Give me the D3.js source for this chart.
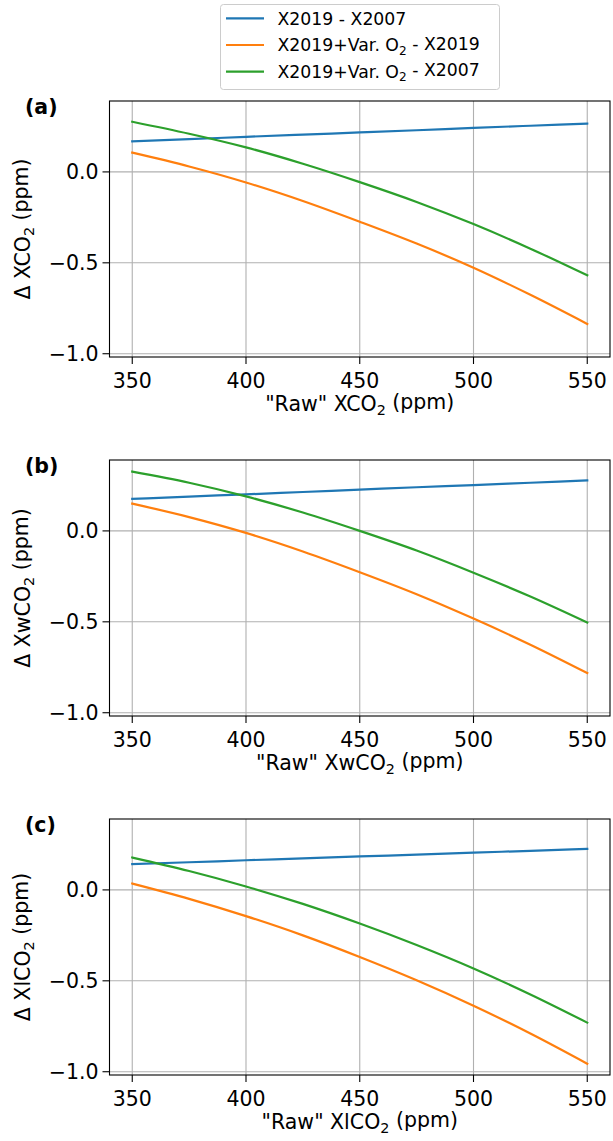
<!DOCTYPE html>
<html>
<head>
<meta charset="utf-8">
<script src="https://cdn.jsdelivr.net/npm/d3@7"></script>
<style>
html, body { margin: 0; padding: 0; background: #fff; }
svg { display: block; font-family: "DejaVu Sans", sans-serif; }
</style>
</head>
<body>
<div id="chart"></div>
<script>
// ---------- data ----------
const rawX = [350, 375, 400, 425, 450, 475, 500, 525, 550];
const xTicks = [350, 400, 450, 500, 550];
const yTicks = [0.0, -0.5, -1.0];
const panelLabels = ["(a)", "(b)", "(c)"];
const quantity = ["XCO", "XwCO", "XlCO"];
const seriesNames = ["X2019 - X2007", "X2019+Var. O|2| - X2019", "X2019+Var. O|2| - X2007"];
const seriesColors = ["#1f77b4", "#ff7f0e", "#2ca02c"];

// panel (a) XCO2
const aBlue   = [0.168, 0.180, 0.193, 0.205, 0.217, 0.229, 0.242, 0.254, 0.266];
const aOrange = [0.106, 0.030, -0.058, -0.160, -0.274, -0.394, -0.527, -0.676, -0.836];
const aGreen  = [0.276, 0.210, 0.135, 0.045, -0.056, -0.165, -0.287, -0.422, -0.569];
// panel (b) XwCO2
const bBlue   = [0.176, 0.189, 0.201, 0.214, 0.227, 0.240, 0.252, 0.265, 0.278];
const bOrange = [0.150, 0.076, -0.011, -0.113, -0.227, -0.348, -0.482, -0.626, -0.782];
const bGreen  = [0.326, 0.265, 0.190, 0.101, 0.000, -0.108, -0.230, -0.361, -0.504];
// panel (c) XlCO2
const cBlue   = [0.142, 0.152, 0.163, 0.173, 0.184, 0.194, 0.205, 0.215, 0.226];
const cOrange = [0.035, -0.049, -0.144, -0.250, -0.369, -0.497, -0.637, -0.790, -0.956];
const cGreen  = [0.178, 0.104, 0.019, -0.077, -0.185, -0.303, -0.432, -0.575, -0.730];

const panels = [
  [aBlue, aOrange, aGreen],
  [bBlue, bOrange, bGreen],
  [cBlue, cOrange, cGreen]
];

// ---------- layout ----------
const W = 613, H = 1141;
const plotLeft = 109.5, plotRight = 610;
const panelTops = [101, 460, 819];
const plotH = 256;
const fs = 20.5;

const svg = d3.select("#chart").append("svg")
  .attr("width", W).attr("height", H)
  .attr("viewBox", `0 0 ${W} ${H}`);

const x = d3.scaleLinear().domain([340, 560]).range([plotLeft, plotRight]);
const fmt = d3.format(".1f");

// helper: add text with "|2|" subscript markers
function richText(sel, str, subSize) {
  const parts = str.split("|");
  parts.forEach((p, i) => {
    if (i % 2 === 0) {
      const t = sel.append("tspan").text(p);
      if (i > 0) t.attr("dy", "-0.28em");
    } else {
      sel.append("tspan").attr("font-size", subSize).attr("dy", "0.28em").text(p);
    }
  });
}

panels.forEach((series, pi) => {
  const top = panelTops[pi];
  const bottom = top + plotH;
  const y = d3.scaleLinear().domain([-1.018, 0.39]).range([bottom, top]);
  const g = svg.append("g");

  // grid
  g.selectAll(".vg").data(xTicks).enter().append("line")
    .attr("x1", d => x(d)).attr("x2", d => x(d))
    .attr("y1", top).attr("y2", bottom)
    .attr("stroke", "#b0b0b0").attr("stroke-width", 1.1);
  g.selectAll(".hg").data(yTicks).enter().append("line")
    .attr("x1", plotLeft).attr("x2", plotRight)
    .attr("y1", d => y(d)).attr("y2", d => y(d))
    .attr("stroke", "#b0b0b0").attr("stroke-width", 1.1);

  // lines
  const line = d3.line()
    .x((d, i) => x(rawX[i]))
    .y(d => y(d))
    .curve(d3.curveMonotoneX);
  series.forEach((vals, si) => {
    g.append("path").datum(vals)
      .attr("d", line)
      .attr("fill", "none")
      .attr("stroke", seriesColors[si])
      .attr("stroke-width", 2.2)
      .attr("stroke-linecap", "square");
  });

  // spines
  g.append("rect")
    .attr("x", plotLeft).attr("y", top)
    .attr("width", plotRight - plotLeft).attr("height", plotH)
    .attr("fill", "none").attr("stroke", "#000").attr("stroke-width", 1.1);

  // x ticks
  g.selectAll(".xt").data(xTicks).enter().append("line")
    .attr("x1", d => x(d)).attr("x2", d => x(d))
    .attr("y1", bottom).attr("y2", bottom + 7)
    .attr("stroke", "#000").attr("stroke-width", 1.1);
  g.selectAll(".xl").data(xTicks).enter().append("text")
    .attr("x", d => x(d)).attr("y", bottom + 30.5)
    .attr("text-anchor", "middle").attr("font-size", fs).attr("fill", "#000")
    .text(d => d);

  // y ticks
  g.selectAll(".yt").data(yTicks).enter().append("line")
    .attr("x1", plotLeft - 7).attr("x2", plotLeft)
    .attr("y1", d => y(d)).attr("y2", d => y(d))
    .attr("stroke", "#000").attr("stroke-width", 1.1);
  g.selectAll(".yl").data(yTicks).enter().append("text")
    .attr("x", plotLeft - 11).attr("y", d => y(d))
    .attr("dy", "0.36em")
    .attr("text-anchor", "end").attr("font-size", fs).attr("fill", "#000")
    .text(d => fmt(d));

  // x axis label
  const xl = g.append("text")
    .attr("x", (plotLeft + plotRight) / 2).attr("y", bottom + 53.5)
    .attr("text-anchor", "middle").attr("font-size", fs).attr("fill", "#000");
  richText(xl, `"Raw" ${quantity[pi]}|2| (ppm)`, fs * 0.7);

  // y axis label
  const yl = g.append("text")
    .attr("transform", `translate(30,${(top + bottom) / 2}) rotate(-90)`)
    .attr("text-anchor", "middle").attr("font-size", fs).attr("fill", "#000");
  richText(yl, `Δ ${quantity[pi]}|2| (ppm)`, fs * 0.7);

  // panel label
  g.append("text")
    .attr("x", 25).attr("y", top + 13)
    .attr("font-size", fs).attr("font-weight", "bold").attr("fill", "#000")
    .text(panelLabels[pi]);
});

// ---------- legend ----------
const lg = svg.append("g");
lg.append("rect")
  .attr("x", 220.5).attr("y", 4.5).attr("width", 279).attr("height", 85)
  .attr("rx", 3).attr("fill", "#fff").attr("stroke", "#cccccc").attr("stroke-width", 1);
const legFs = 17.3;
const rowY = [18.3, 45, 71.7];
seriesNames.forEach((name, i) => {
  lg.append("line")
    .attr("x1", 226).attr("x2", 264)
    .attr("y1", rowY[i]).attr("y2", rowY[i])
    .attr("stroke", seriesColors[i]).attr("stroke-width", 2.2);
  const t = lg.append("text")
    .attr("x", 277.5).attr("y", rowY[i] + 6.2)
    .attr("font-size", legFs).attr("fill", "#000");
  richText(t, name, legFs * 0.7);
});
</script>
</body>
</html>
